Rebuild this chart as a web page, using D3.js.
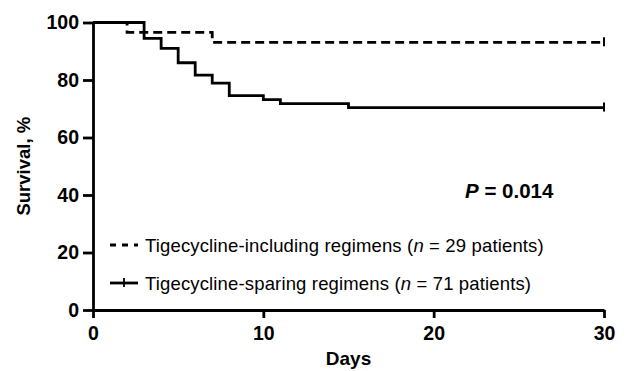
<!DOCTYPE html>
<html>
<head>
<meta charset="utf-8">
<script src="https://cdn.jsdelivr.net/npm/d3@7"></script>
<style>
  body { margin: 0; background: #fff; }
  svg { display: block; font-family: "Liberation Sans", Arial, sans-serif; }
</style>
</head>
<body>
<svg id="chart" width="626" height="371"></svg>
<script>
// survival data
const includingDays = [0, 2, 7, 30];
const includingSurv = [100, 96.6, 93.1, 93.1];
const sparingDays = [0, 3, 4, 5, 6, 7, 8, 10, 11, 15, 30];
const sparingSurv = [100, 94.5, 91, 86, 81.7, 78.9, 74.6, 73.2, 71.8, 70.4, 70.4];
const xTicks = [0, 10, 20, 30];
const yTicks = [0, 20, 40, 60, 80, 100];
const legendLabels = [
    ['Tigecycline-including regimens (', 'n', ' = 29 patients)'],
    ['Tigecycline-sparing regimens (', 'n', ' = 71 patients)']
];

const svg = d3.select('#chart');

const x = d3.scaleLinear([0, 30], [93, 604]);
const y = d3.scaleLinear([0, 100], [310, 22.5]);

// axes
const xAxis = d3.axisBottom(x).tickValues(xTicks).tickSize(8).tickSizeOuter(0).tickPadding(8);
const yAxis = d3.axisLeft(y).tickValues(yTicks).tickSize(10).tickSizeOuter(0).tickPadding(4);

const gx = svg.append('g')
    .attr('transform', `translate(0,${y(0)})`)
    .call(xAxis);
const gy = svg.append('g')
    .attr('transform', `translate(${x(0)},0)`)
    .call(yAxis);

[gx, gy].forEach(g => {
    g.selectAll('path, line').attr('stroke', '#000').attr('stroke-width', 2.8);
    g.selectAll('text')
        .attr('fill', '#000')
        .style('font-size', '19.5px')
        .style('font-weight', 'bold');
});

svg.append('text')
    .attr('x', (x(0) + x(30)) / 2)
    .attr('y', 365)
    .attr('text-anchor', 'middle')
    .style('font-size', '19px')
    .style('font-weight', 'bold')
    .text('Days');

svg.append('text')
    .attr('transform', `translate(30,${(y(0) + y(100)) / 2}) rotate(-90)`)
    .attr('text-anchor', 'middle')
    .style('font-size', '18.5px')
    .style('font-weight', 'bold')
    .text('Survival, %');

// step curves
const line = d3.line()
    .x(d => x(d[0]))
    .y(d => y(d[1]))
    .curve(d3.curveStepAfter);

const curves = [
    {days: includingDays, surv: includingSurv, dash: '9,5'},
    {days: sparingDays, surv: sparingSurv, dash: null}
];

curves.forEach(c => {
    const pts = c.days.map((d, i) => [d, c.surv[i]]);
    svg.append('path')
        .datum(pts)
        .attr('fill', 'none')
        .attr('stroke', '#000')
        .attr('stroke-width', 2.8)
        .attr('stroke-dasharray', c.dash)
        .attr('d', line);
    // censor tick at the end
    const last = pts[pts.length - 1];
    svg.append('line')
        .attr('x1', x(last[0])).attr('x2', x(last[0]))
        .attr('y1', y(last[1]) - 5).attr('y2', y(last[1]) + 4)
        .attr('stroke', '#000')
        .attr('stroke-width', 2);
});

// P value
const ptxt = svg.append('text')
    .attr('x', 465)
    .attr('y', 198)
    .style('font-size', '20.5px')
    .style('font-weight', 'bold');
ptxt.append('tspan').style('font-style', 'italic').text('P');
ptxt.append('tspan').text(' = 0.014');

// legend
const legendY = [245, 283];
legendY.forEach((ly, i) => {
    svg.append('line')
        .attr('x1', 110).attr('x2', 138)
        .attr('y1', ly).attr('y2', ly)
        .attr('stroke', '#000')
        .attr('stroke-width', 2.8)
        .attr('stroke-dasharray', i === 0 ? '6,6' : null);
    if (i === 1) {
        svg.append('line')
            .attr('x1', 124).attr('x2', 124)
            .attr('y1', ly - 5).attr('y2', ly + 4)
            .attr('stroke', '#000')
            .attr('stroke-width', 1.8);
    }
    const t = svg.append('text')
        .attr('x', 145)
        .attr('y', ly + 6.5)
        .style('font-size', '18.5px')
        .style('letter-spacing', '0.15px');
    t.append('tspan').text(legendLabels[i][0]);
    t.append('tspan').style('font-style', 'italic').text(legendLabels[i][1]);
    t.append('tspan').text(legendLabels[i][2]);
});
</script>
</body>
</html>
